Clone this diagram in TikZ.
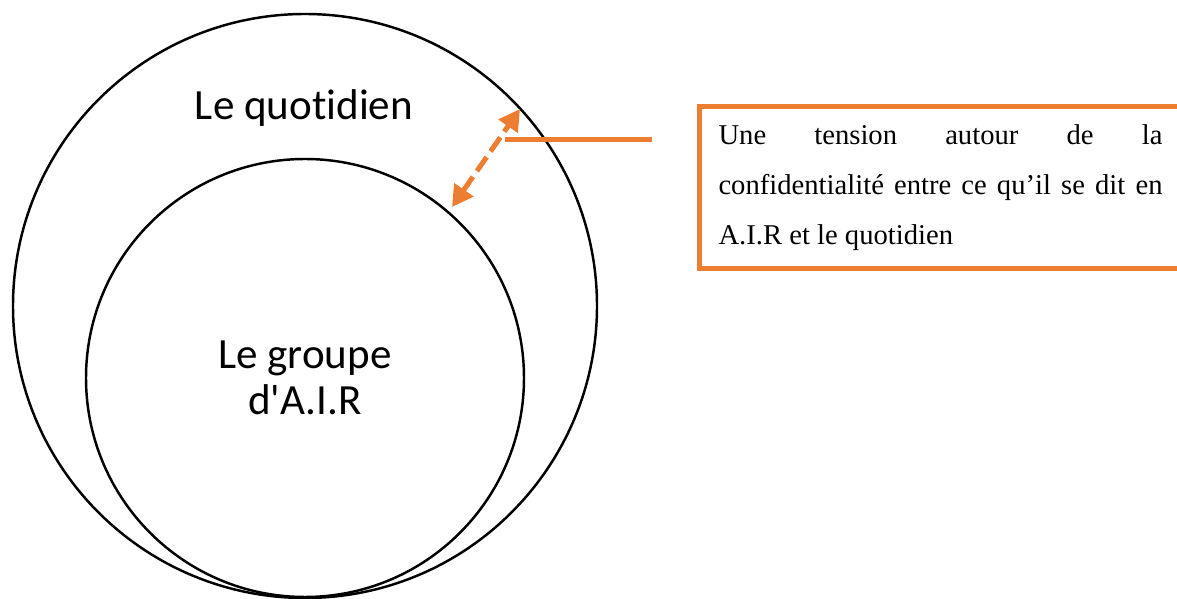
\documentclass[tikz,border=0pt]{standalone}
\usepackage{fontspec}
\setmainfont{Liberation Serif}
\newfontfamily\calfont[Ligatures={NoCommon}]{Carlito}
\usepackage{xcolor}
\usetikzlibrary{arrows.meta}
\definecolor{airorange}{HTML}{ED7D31}

\tikzset{
  ring/.style={draw=black, line width=1.4pt},
  circlelabel/.style={font=\calfont\fontsize{24.5}{26.2}\selectfont, inner sep=0pt, align=center},
  tensionbox/.style={draw=airorange, line width=2.85pt, text width=8.88cm, align=justify,
    inner xsep=0.38cm, inner ysep=0.36cm, font=\fontsize{16.3}{28.45}\selectfont},
  orangeline/.style={draw=airorange, line width=2.85pt},
}

\begin{document}
\begin{tikzpicture}
\useasboundingbox (0,0) rectangle (23.54,11.98);
\clip (0,0) rectangle (23.54,11.98);
%cercles
\draw [ring] (6.10,5.86) circle (5.84);
\draw [ring] (6.10,4.42) circle (4.38);
\node [circlelabel, anchor=base] (quotidien) at (6.08,9.58) {Le quotidien};
\node [circlelabel] (groupe) at (6.10,4.42) {Le groupe\\d'A.I.R};
%tension
\coordinate (outerpt) at (10.40,9.80);
\coordinate (innerpt) at (9.04,7.84);
\draw [orangeline, dash pattern=on 0.34cm off 0.14cm,
  {Triangle[length=0.42cm,width=0.45cm]}-{Triangle[length=0.42cm,width=0.45cm]}] (innerpt) -- (outerpt);
\coordinate (linestart) at (10.10,9.18);
\coordinate (lineend) at (13.04,9.18);
\draw [orangeline] (linestart) -- (lineend);
\node [tensionbox, anchor=north west] (tension) at (13.94,9.90)
  {\hyphenpenalty=10000 Une tension autour de la\linebreak
   confidentialité entre ce qu’il se dit en\linebreak
   A.I.R et le quotidien};
\end{tikzpicture}
\end{document}
